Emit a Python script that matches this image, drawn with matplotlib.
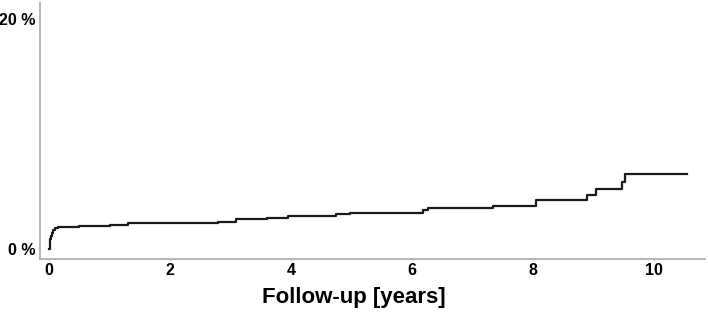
import matplotlib.pyplot as plt
import numpy as np

plt.rcParams['font.family'] = ['Liberation Sans', 'DejaVu Sans']

# step times (years) and cumulative incidence (%)
times = [0.0, 0.01, 0.02, 0.03, 0.05, 0.07, 0.1, 0.15, 0.5, 1.0, 1.3, 2.8, 3.1,
         3.6, 3.95, 4.75, 4.98, 6.18, 6.27, 7.35, 8.05, 8.9, 9.05, 9.48, 9.52, 10.55]
cum_inc = [0.0, 0.4, 0.8, 1.1, 1.4, 1.65, 1.8, 1.9, 1.95, 2.05, 2.2, 2.3, 2.55,
           2.7, 2.85, 3.0, 3.15, 3.35, 3.5, 3.7, 4.2, 4.7, 5.2, 5.8, 6.5, 6.5]

xticks = [0, 2, 4, 6, 8, 10]
yticks = [0, 20]
ytick_labels = ['0 %', '20 %']

fig = plt.figure(figsize=(7.08, 3.17), dpi=100)
ax = fig.add_axes([40/708, 1-259/317, 665/708, 256/317])

ax.step(times, cum_inc, where='post', color='#1a1a1a', lw=1.6)

ax.set_xlim(-0.15, 10.85)
ax.set_ylim(-0.9, 21.4)
ax.set_xticks(xticks)
ax.set_xticklabels([str(t) for t in xticks], fontsize=11.5, fontweight='bold')
ax.set_yticks(yticks)
ax.set_yticklabels(ytick_labels, fontsize=11.5, fontweight='bold')
ax.set_yticks([10], minor=True)
ax.tick_params(axis='both', length=1.5, color='#cccccc', pad=1.5)
ax.tick_params(axis='y', which='minor', length=1.5, color='#dddddd')
ax.set_xlabel('Follow-up [years]', fontsize=16, fontweight='bold')
# label sits centred on the figure rather than the axes
ax.xaxis.set_label_coords(0.472, -0.108)

for s in ['top', 'right']:
    ax.spines[s].set_visible(False)
for s in ['left', 'bottom']:
    ax.spines[s].set_color('#aaaaaa')
    ax.spines[s].set_linewidth(1.2)

fig.savefig('out.png', dpi=100)
